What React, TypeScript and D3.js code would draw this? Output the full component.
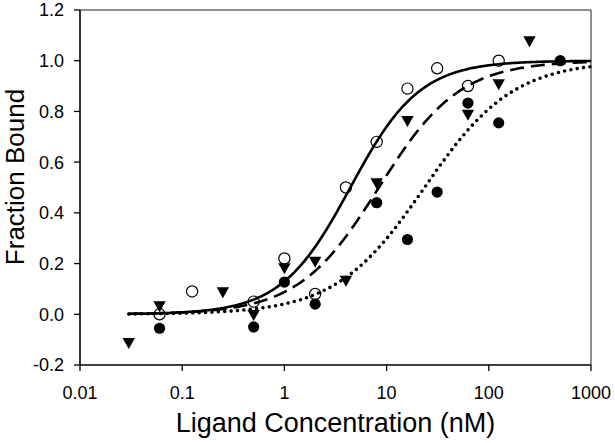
import React from "react";
import * as d3 from "d3";

// ---- Data ----
const openConc = [0.06, 0.125, 0.5, 1, 2, 4, 8, 16, 31.25, 62.5, 125];
const openBound = [0.0, 0.09, 0.05, 0.22, 0.08, 0.5, 0.68, 0.89, 0.97, 0.9, 1.0];

const triConc = [0.03, 0.06, 0.25, 0.5, 1, 2, 4, 8, 16, 62.5, 125, 250];
const triBound = [-0.11, 0.035, 0.09, 0.0, 0.185, 0.21, 0.135, 0.52, 0.765, 0.79, 0.91, 1.08];

const fillConc = [0.06, 0.5, 1, 2, 8, 16, 31.25, 62.5, 125, 500];
const fillBound = [-0.055, -0.05, 0.127, 0.04, 0.44, 0.295, 0.482, 0.833, 0.755, 1.0];

// Fitted Hill curve parameters (K in nM, Hill slope n)
const fitNames = ["solid", "dashed", "dotted"];
const fitK = [4.42, 8.4, 23.5];
const fitN = [1.28, 1.1, 1.0];
const fitFrom = 0.03;
const fitTo = 1000;

const xTicks = [0.01, 0.1, 1, 10, 100, 1000];
const xTickLabels = ["0.01", "0.1", "1", "10", "100", "1000"];
const yTicks = [-0.2, 0, 0.2, 0.4, 0.6, 0.8, 1.0, 1.2];

const W = 615;
const H = 443;
const left = 80;
const right = 591;
const top = 10;
const bottom = 365;

export default function App() {
  const x = d3.scaleLog().domain([0.01, 1000]).range([left, right]);
  const y = d3.scaleLinear().domain([-0.2, 1.2]).range([bottom, top]);

  const logSamples = d3.range(0, 401).map(
    (i) => Math.pow(10, Math.log10(fitFrom) + (i / 400) * (Math.log10(fitTo) - Math.log10(fitFrom)))
  );
  const line = d3
    .line<[number, number]>()
    .x((d) => x(d[0]))
    .y((d) => y(d[1]));

  const curves = fitNames.map((name, i) => {
    const pts: [number, number][] = logSamples.map((c) => [c, 1 / (1 + Math.pow(fitK[i] / c, fitN[i]))]);
    return { name, d: line(pts) as string };
  });

  const styleFor = (name: string) => {
    if (name === "solid") return { strokeWidth: 2.6 };
    if (name === "dashed") return { strokeWidth: 2.6, strokeDasharray: "14 7" };
    return { strokeWidth: 3.6, strokeDasharray: "0 6.4", strokeLinecap: "round" as const };
  };

  const tri = (cx: number, cy: number) => {
    const w = 6.2;
    const h = 11;
    return `M${cx - w},${cy - h / 2.6} L${cx + w},${cy - h / 2.6} L${cx},${cy + h * (1 - 1 / 2.6)} Z`;
  };

  const font = "Liberation Sans, Arial, Helvetica, sans-serif";

  return (
    <svg
      width={W}
      height={H}
      style={{ position: "absolute", left: 0, top: 0, background: "#fff" }}
      fontFamily={font}
    >
      <rect x={0} y={0} width={W} height={H} fill="#fff" />
      {/* frame */}
      <line x1={left} x2={right} y1={top} y2={top} stroke="#222" strokeWidth={1.2} />
      <line x1={right} x2={right} y1={top} y2={bottom} stroke="#444" strokeWidth={1.2} />
      {/* curves */}
      {curves.map((c) => (
        <path key={c.name} d={c.d} fill="none" stroke="#000" {...styleFor(c.name)} />
      ))}
      {/* markers */}
      {fillConc.map((c, i) => (
        <circle key={"f" + i} cx={x(c)} cy={y(fillBound[i])} r={5.6} fill="#000" />
      ))}
      {triConc.map((c, i) => (
        <path key={"t" + i} d={tri(x(c), y(triBound[i]))} fill="#000" />
      ))}
      {openConc.map((c, i) => (
        <circle key={"o" + i} cx={x(c)} cy={y(openBound[i])} r={5.6} fill="none" stroke="#000" strokeWidth={1.2} />
      ))}
      {/* axes */}
      <line x1={left} x2={left} y1={top} y2={bottom} stroke="#000" strokeWidth={1.6} />
      <line x1={left} x2={right} y1={bottom} y2={bottom} stroke="#000" strokeWidth={1.6} />
      {yTicks.map((t) => (
        <g key={"y" + t}>
          <line x1={left - 6} x2={left} y1={y(t)} y2={y(t)} stroke="#000" strokeWidth={1.3} />
          <text x={64} y={y(t)} dy="0.36em" textAnchor="end" fontSize={18} fill="#000">
            {t.toFixed(1)}
          </text>
        </g>
      ))}
      {xTicks.map((t, i) => (
        <g key={"x" + t}>
          <line x1={x(t)} x2={x(t)} y1={bottom} y2={bottom + 6} stroke="#000" strokeWidth={1.3} />
          <text x={x(t)} y={399} textAnchor="middle" fontSize={18} fill="#000">
            {xTickLabels[i]}
          </text>
        </g>
      ))}
      <text x={(left + right) / 2} y={432} textAnchor="middle" fontSize={27} fill="#000">
        Ligand Concentration (nM)
      </text>
      <text
        transform={`translate(24, 177) rotate(-90)`}
        textAnchor="middle"
        fontSize={26}
        fill="#000"
      >
        Fraction Bound
      </text>
    </svg>
  );
}
